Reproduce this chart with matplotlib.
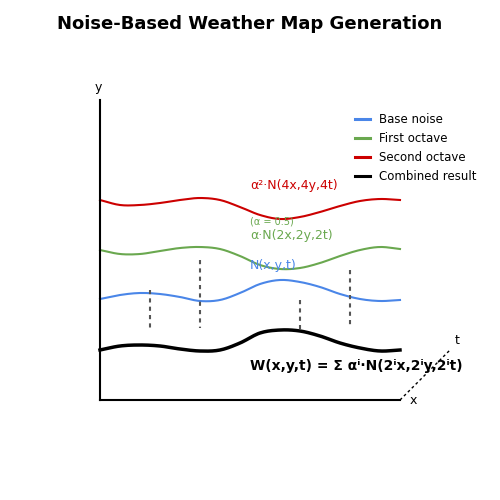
import matplotlib
matplotlib.use("Agg")
import matplotlib.pyplot as plt
import numpy as np

px = [100,120,140,160,180,200,220,240,260,280,300,320,340,360,380,400]
base_py   = [299,295,293,294,297,301,300,293,284,280,282,287,294,299,301,300]
first_py  = [250,254,254,251,248,247,249,256,265,269,268,263,256,250,247,249]
second_py = [200,205,205,203,200,198,200,207,215,219,217,212,206,201,199,200]
comb_py   = [350,346,345,346,349,351,350,343,333,330,331,336,343,348,351,350]
dot_lines = [(150,290,328),(200,260,328),(300,300,330),(350,270,327)]

def X(p): return (np.asarray(p,float)-100)/30
def Y(p): return (400-np.asarray(p,float))/30

def smooth(xs, ys, n=10):
    # Catmull-Rom rendering of the read points
    xs = np.asarray(xs, float); ys = np.asarray(ys, float)
    P = np.column_stack([xs, ys])
    P = np.vstack([2*P[0]-P[1], P, 2*P[-1]-P[-2]])
    out = []
    t = np.linspace(0, 1, n, endpoint=False)[:, None]
    for i in range(1, len(P)-2):
        p0, p1, p2, p3 = P[i-1], P[i], P[i+1], P[i+2]
        out.append(0.5*((2*p1) + (-p0+p2)*t + (2*p0-5*p1+4*p2-p3)*t**2 + (-p0+3*p1-3*p2+p3)*t**3))
    out.append(P[-2][None, :])
    o = np.vstack(out)
    return o[:, 0], o[:, 1]

fig = plt.figure(figsize=(5,5), dpi=100)
ax = fig.add_axes([0,0,1,1])
ax.set_xlim(X(0), X(500)); ax.set_ylim(Y(500), Y(0)); ax.axis('off')

for data, c, lw, lab in [(base_py, '#4a86e8', 1.5, 'Base noise'),
                         (first_py, '#6aa84f', 1.5, 'First octave'),
                         (second_py, '#cc0000', 1.5, 'Second octave'),
                         (comb_py, 'black', 2.5, 'Combined result')]:
    sx, sy = smooth(X(px), Y(data))
    ax.plot(sx, sy, color=c, lw=lw, label=lab)
for x, y0, y1 in dot_lines:
    ax.plot(X([x,x]), Y([y0,y1]), color='#555555', lw=1.5, ls=(0,(2,2)))

ax.plot(X([100,100]), Y([100,400]), color='black', lw=1.5)
ax.plot(X([100,400]), Y([400,400]), color='black', lw=1.5)
ax.plot(X([400,450]), Y([400,350]), color='black', lw=1, ls=(0,(2,2)))
ax.text(X(98), Y(87), 'y', ha='center', va='center', fontsize=9)
ax.text(X(413), Y(401), 'x', ha='center', va='center', fontsize=9)
ax.text(X(457), Y(341), 't', ha='center', va='center', fontsize=9)

ax.text(X(250), Y(186), 'α²·N(4x,4y,4t)', color='#cc0000', fontsize=9, va='center')
ax.text(X(250), Y(221), '(α = 0.5)', color='#6aa84f', fontsize=7, va='center')
ax.text(X(250), Y(236), 'α·N(2x,2y,2t)', color='#6aa84f', fontsize=9, va='center')
ax.text(X(250), Y(266), 'N(x,y,t)', color='#4a86e8', fontsize=9, va='center')
ax.text(X(250), Y(366), 'W(x,y,t) = Σ αⁱ·N(2ⁱx,2ⁱy,2ⁱt)', fontsize=10, fontweight='bold', va='center')

fig.text(0.5, 1-24/500, 'Noise-Based Weather Map Generation', ha='center', va='center', fontsize=13, fontweight='bold')
leg = ax.legend(loc='upper right', bbox_to_anchor=(0.975, 0.795), frameon=False, fontsize=8.5,
                handlelength=1.3, labelspacing=0.5)
for h in leg.get_lines():
    h.set_linewidth(2.2)
fig.savefig('out.png', dpi=100)
